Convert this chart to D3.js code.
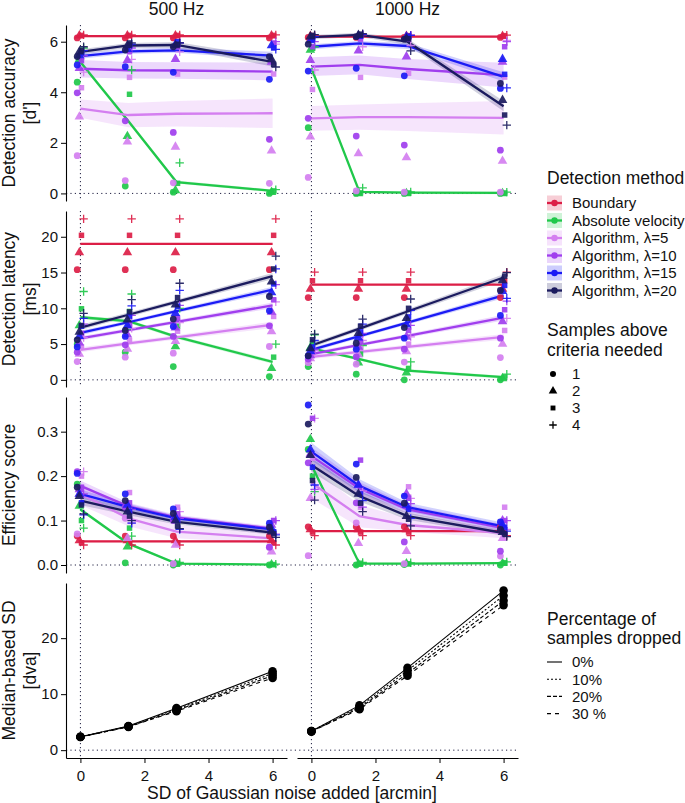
<!DOCTYPE html>
<html><head><meta charset="utf-8">
<script src="https://cdn.jsdelivr.net/npm/d3@7"></script>
<style>
body{margin:0;background:#fff}
svg{display:block}
text{font-family:"Liberation Sans",Arial,Helvetica,sans-serif;fill:#111}
</style>
</head><body>
<svg id="c" width="685" height="803"></svg>
<script>
// ---------------- DATA ----------------
const frequencies = ["500 Hz", "1000 Hz"];
const methods = ["Boundary", "Absolute velocity", "Algorithm, λ=5", "Algorithm, λ=10", "Algorithm, λ=15", "Algorithm, λ=20"];
const methodColors = ["#DC1E46", "#20C84A", "#D47FF0", "#A03EEE", "#1B1BF5", "#1B1B5E"];
const samplesNeeded = ["1", "2", "3", "4"];
const noiseLevels = [0, 1.5, 3, 6];
const dropLabels = ["0%", "10%", "20%", "30 %"];
const xTicks = [0, 2, 4, 6];
const accTicks = [0, 2, 4, 6];
const latTicks = [0, 5, 10, 15, 20];
const effTicks = [0, 0.1, 0.2, 0.3];
const sdTicks = [0, 10, 20];

// Detection accuracy (d') – means, CI half widths, points [method][noise][samples]
const accLine500 = [[6.22,6.22,6.22,6.22],[5.2,2.85,0.45,0.1],[3.35,3.1,3.15,3.17],[4.93,4.87,4.86,4.82],[5.43,5.62,5.66,5.45],[5.6,5.85,5.87,5.2]];
const accBand500 = [[0.04,0.04,0.04,0.04],[0.08,0.08,0.06,0.05],[0.36,0.48,0.5,0.58],[0.35,0.33,0.33,0.35],[0.1,0.1,0.1,0.15],[0.1,0.1,0.12,0.18]];
const accPts500 = [
 [[6.15,6.24,6.25,6.27],[6.15,6.24,6.25,6.27],[6.15,6.24,6.25,6.27],[6.15,6.24,6.25,6.27]],
 [[4.4,5.3,5.5,5.75],[0.29,2.26,3.92,4.88],[0.05,0.12,0.4,1.21],[0.0,0.05,0.1,0.15]],
 [[1.49,3.03,4.18,4.8],[0.51,2.04,4.59,5.3],[0.42,1.84,4.72,5.6],[0.4,1.69,4.72,5.9]],
 [[3.98,4.95,5.25,5.45],[2.87,5.27,5.6,5.75],[2.41,5.31,5.8,5.95],[2.14,5.2,5.95,6.0]],
 [[5.08,5.45,5.55,5.65],[5.01,5.7,5.85,5.9],[4.79,5.9,6.0,5.95],[4.51,5.85,5.75,5.7]],
 [[5.41,5.6,5.65,5.8],[5.67,5.85,5.95,5.95],[5.8,5.85,5.9,5.95],[5.41,5.3,5.1,5.0]]
];
const accLine1000 = [[6.2,6.2,6.2,6.2],[4.95,0.06,0.03,0.02],[2.97,3.02,3.02,2.99],[5.01,5.08,4.92,4.68],[5.8,5.93,5.83,4.61],[6.18,6.27,6.0,3.45]];
const accBand1000 = [[0.04,0.04,0.04,0.04],[0.06,0.05,0.05,0.05],[0.49,0.5,0.55,0.66],[0.37,0.37,0.4,0.49],[0.1,0.1,0.12,0.18],[0.08,0.08,0.12,0.2]];
const accPts1000 = [
 [[6.17,6.22,6.24,6.26],[6.17,6.22,6.24,6.26],[6.17,6.22,6.24,6.26],[6.17,6.22,6.24,6.26]],
 [[2.6,5.67,5.75,5.8],[0.0,0.0,0.02,0.22],[0.0,0.0,0.02,0.06],[0.0,0.0,0.02,0.05]],
 [[0.63,2.24,4.11,4.88],[0.1,1.58,4.59,5.8],[0.05,1.42,4.75,5.85],[0.05,1.28,4.6,6.05]],
 [[2.97,5.27,5.8,6.0],[2.27,5.64,6.1,6.3],[1.91,5.41,6.1,6.25],[1.71,5.2,5.8,6.0]],
 [[4.84,6.05,6.1,6.2],[4.95,6.22,6.26,6.28],[4.65,6.2,6.22,6.25],[4.15,5.31,4.71,4.17]],
 [[5.9,6.2,6.25,6.28],[6.2,6.26,6.3,6.32],[6.1,6.12,6.12,5.64],[4.35,3.69,3.1,2.7]]
];

// Detection latency (ms)
const latLine500 = [[19,19,19,19],[8.75,8.2,6.0,2.5],[4.2,5.1,5.95,7.7],[5.8,6.95,8.1,10.4],[6.55,8.05,9.6,12.6],[7.3,9.1,10.9,14.5]];
const latBand500 = [[0.1,0.1,0.1,0.1],[0.25,0.25,0.25,0.25],[0.35,0.3,0.3,0.45],[0.3,0.25,0.25,0.4],[0.3,0.25,0.25,0.4],[0.35,0.3,0.3,0.45]];
const latPts500 = [
 [[15.4,17.8,20.2,22.5],[15.4,17.8,20.2,22.5],[15.4,17.8,20.2,22.5],[15.4,17.8,20.2,22.5]],
 [[5.0,7.6,9.93,12.35],[3.87,7.4,9.56,12.0],[1.86,4.66,7.5,10.0],[0.46,1.63,3.17,4.99]],
 [[2.56,3.6,4.6,5.9],[3.17,4.3,5.5,7.2],[3.73,5.4,6.8,8.0],[4.66,6.76,8.86,10.9]],
 [[3.87,5.2,6.5,7.8],[4.9,6.3,7.7,9.0],[6.06,7.3,8.6,10.4],[7.55,9.5,11.2,13.3]],
 [[4.6,6.1,7.5,8.6],[6.06,7.6,8.9,10.35],[7.46,9.3,10.3,12.5],[9.65,12.2,13.4,15.5]],
 [[5.6,6.7,7.6,9.3],[6.9,8.4,9.5,11.2],[8.5,10.5,11.5,13.5],[11.65,13.7,15.5,17.3]]
];
const latLine1000 = [[13.3,13.3,13.3,13.3],[4.4,2.9,1.3,0.37],[3.2,3.9,4.6,6.0],[3.6,4.9,6.15,8.7],[4.2,6.1,8.0,11.8],[4.8,7.17,9.55,14.3]];
const latBand1000 = [[0.1,0.1,0.1,0.1],[0.2,0.2,0.2,0.2],[0.3,0.3,0.3,0.4],[0.3,0.25,0.25,0.4],[0.3,0.25,0.25,0.4],[0.3,0.3,0.3,0.45]];
const latPts1000 = [
 [[11.5,12.7,13.85,15.06],[11.5,12.7,13.85,15.06],[11.5,12.7,13.85,15.06],[11.5,12.7,13.85,15.06]],
 [[1.86,4.5,5.03,6.3],[0.79,2.4,3.6,4.8],[0.0,1.0,1.6,2.5],[0.0,0.2,0.4,0.8]],
 [[2.4,3.0,3.5,4.1],[2.19,3.5,4.4,5.5],[2.48,3.96,5.0,6.0],[3.12,5.0,6.9,8.6]],
 [[2.9,3.4,3.9,4.3],[3.2,4.6,5.3,6.5],[4.29,6.0,6.9,7.6],[5.83,8.15,9.8,11.0]],
 [[3.36,4.0,4.6,5.5],[4.29,5.9,6.7,7.8],[5.83,7.7,8.8,9.7],[9.0,12.4,13.2,11.4]],
 [[3.36,4.4,5.6,6.4],[5.13,6.5,7.5,8.5],[7.3,8.6,10.0,11.3],[12.5,13.9,14.5,15.0]]
];

// Efficiency score
const effLine500 = [[0.053,0.053,0.053,0.053],[0.125,0.048,0.003,0.001],[0.16,0.105,0.075,0.06],[0.178,0.132,0.107,0.082],[0.16,0.13,0.105,0.08],[0.145,0.12,0.097,0.073]];
const effBand500 = [[0.002,0.002,0.002,0.002],[0.004,0.003,0.002,0.001],[0.025,0.018,0.015,0.012],[0.012,0.008,0.006,0.005],[0.01,0.008,0.006,0.005],[0.01,0.008,0.006,0.005]];
const effPts500 = [
 [[0.065,0.055,0.05,0.045],[0.065,0.055,0.05,0.045],[0.065,0.055,0.05,0.045],[0.065,0.055,0.05,0.045]],
 [[0.182,0.133,0.1,0.083],[0.005,0.041,0.083,0.065],[0.0,0.002,0.004,0.006],[0.0,0.001,0.001,0.002]],
 [[0.07,0.16,0.2,0.21],[0.105,0.06,0.163,0.095],[0.003,0.045,0.13,0.12],[0.04,0.03,0.1,0.07]],
 [[0.21,0.17,0.175,0.16],[0.13,0.135,0.14,0.125],[0.1,0.11,0.115,0.105],[0.04,0.09,0.1,0.1]],
 [[0.206,0.16,0.14,0.113],[0.16,0.135,0.12,0.094],[0.126,0.108,0.1,0.08],[0.094,0.082,0.075,0.068]],
 [[0.175,0.155,0.135,0.115],[0.145,0.12,0.11,0.1],[0.116,0.1,0.088,0.082],[0.085,0.075,0.07,0.062]]
];
const effLine1000 = [[0.076,0.076,0.076,0.076],[0.225,0.003,0.003,0.004],[0.185,0.11,0.09,0.072],[0.245,0.172,0.125,0.083],[0.255,0.178,0.13,0.087],[0.225,0.155,0.11,0.072]];
const effBand1000 = [[0.002,0.002,0.002,0.002],[0.006,0.002,0.002,0.002],[0.035,0.025,0.015,0.012],[0.02,0.015,0.01,0.008],[0.02,0.015,0.01,0.008],[0.015,0.012,0.008,0.006]];
const effPts1000 = [
 [[0.086,0.08,0.074,0.066],[0.086,0.08,0.074,0.066],[0.086,0.08,0.074,0.066],[0.086,0.08,0.074,0.066]],
 [[0.26,0.283,0.2,0.165],[0.0,0.002,0.004,0.006],[0.001,0.003,0.003,0.005],[0.0,0.004,0.005,0.007]],
 [[0.021,0.15,0.24,0.33],[0.095,0.049,0.13,0.166],[0.003,0.031,0.176,0.15],[0.02,0.06,0.13,0.08]],
 [[0.23,0.25,0.33,0.17],[0.14,0.18,0.236,0.13],[0.052,0.16,0.15,0.138],[0.031,0.1,0.1,0.1]],
 [[0.36,0.26,0.22,0.18],[0.227,0.18,0.16,0.145],[0.155,0.135,0.125,0.105],[0.097,0.09,0.085,0.076]],
 [[0.317,0.247,0.19,0.146],[0.197,0.16,0.139,0.12],[0.139,0.11,0.103,0.088],[0.08,0.074,0.07,0.064]]
];

// Median-based SD (dva) per percentage dropped
const sdLines500 = [[2.4,4.3,7.5,14.1],[2.4,4.25,7.3,13.7],[2.35,4.2,7.1,13.3],[2.35,4.15,6.95,12.9]];
const sdLines1000 = [[3.4,8.0,14.7,28.5],[3.4,7.75,14.2,27.6],[3.35,7.5,13.7,26.7],[3.35,7.3,13.3,25.9]];

// ---------------- LAYOUT / STYLE ----------------
const colX = [66, 297], colW = 221;
const rowY = [25, 211, 397, 583], rowH = [176, 176, 176, 175];
const xDom = [-0.45, 6.45];
const yDoms = [[-0.3, 6.66], [-1.0, 23.6], [-0.018, 0.378], [-1.4, 29.85]];
const yTickSets = [accTicks, latTicks, effTicks, sdTicks];
const yFmts = [d3.format("d"), d3.format("d"), d3.format(".1f"), d3.format("d")];
const yTitles = [["Detection accuracy", "[d']"], ["Detection latency", "[ms]"], ["Efficiency score"], ["Median-based SD", "[dva]"]];
const dodge = [-0.1, -0.033, 0.033, 0.1];
const dashes = [null, "2,2", "4,2", "4,4"];

const svg = d3.select("#c");
svg.append("rect").attr("width", 685).attr("height", 803).attr("fill", "#fff");

function symbolPath(s, scale = 1) {
  if (s === 0) return d3.symbol().type(d3.symbolCircle).size(36 * scale)();
  if (s === 1) return d3.symbol().type(d3.symbolTriangle).size(40 * scale)();
  if (s === 2) return d3.symbol().type(d3.symbolSquare).size(30 * scale)();
  const a = 4.2 * Math.sqrt(scale);
  return `M${-a},0H${a}M0,${-a}V${a}`;
}
function drawSymbol(g, s, cx, cy, color, scale = 1, op = 0.92) {
  const p = g.append("path").attr("d", symbolPath(s, scale)).attr("transform", `translate(${cx},${cy})`).attr("opacity", op);
  if (s === 3) p.attr("fill", "none").attr("stroke", color).attr("stroke-width", 1.3);
  else p.attr("fill", color);
}

function makePanel(r, c) {
  const g = svg.append("g").attr("transform", `translate(${colX[c]},${rowY[r]})`);
  const x = d3.scaleLinear(xDom, [0, colW]);
  const y = d3.scaleLinear(yDoms[r], [rowH[r], 0]);
  const id = `clip${r}${c}`;
  svg.append("clipPath").attr("id", id).append("rect").attr("width", colW).attr("height", rowH[r]);
  const inner = g.append("g").attr("clip-path", `url(#${id})`);
  inner.append("line").attr("x1", x(0)).attr("x2", x(0)).attr("y1", 0).attr("y2", rowH[r])
    .attr("stroke", "#222244").attr("stroke-width", 1).attr("stroke-dasharray", "1.2,2.8");
  return { g, inner, x, y };
}

function drawMethods(p, lines, bands, pts) {
  const area = d3.area().x((d, i) => p.x(noiseLevels[i])).y0(d => p.y(d[0])).y1(d => p.y(d[1]));
  const line = d3.line().x((d, i) => p.x(noiseLevels[i])).y(d => p.y(d));
  lines.forEach((ln, m) => {
    const band = ln.map((v, i) => [v - bands[m][i], v + bands[m][i]]);
    p.inner.append("path").attr("d", area(band)).attr("fill", methodColors[m]).attr("opacity", 0.2);
  });
  lines.forEach((ln, m) => {
    p.inner.append("path").attr("d", line(ln)).attr("fill", "none")
      .attr("stroke", methodColors[m]).attr("stroke-width", 2.3);
  });
  pts.forEach((pm, m) => pm.forEach((vals, i) => vals.forEach((v, s) => {
    drawSymbol(p.inner, s, p.x(noiseLevels[i] + dodge[s]), p.y(v), methodColors[m]);
  })));
}

function drawSD(p, sdLines) {
  const line = d3.line().x((d, i) => p.x(noiseLevels[i])).y(d => p.y(d));
  sdLines.forEach((ln, k) => {
    const path = p.inner.append("path").attr("d", line(ln)).attr("fill", "none")
      .attr("stroke", "#000").attr("stroke-width", 1.1);
    if (dashes[k]) path.attr("stroke-dasharray", dashes[k]);
  });
  sdLines.forEach(ln => ln.forEach((v, i) => {
    p.inner.append("circle").attr("cx", p.x(noiseLevels[i])).attr("cy", p.y(v)).attr("r", 4.3).attr("fill", "#000");
  }));
}

const dataSets = [
  [[accLine500, accBand500, accPts500], [accLine1000, accBand1000, accPts1000]],
  [[latLine500, latBand500, latPts500], [latLine1000, latBand1000, latPts1000]],
  [[effLine500, effBand500, effPts500], [effLine1000, effBand1000, effPts1000]]
];

for (let r = 0; r < 4; r++) {
  const yTmp = d3.scaleLinear(yDoms[r], [rowY[r] + rowH[r], rowY[r]]);
  svg.append("line").attr("x1", colX[0]).attr("x2", colX[1] + colW - 2)
    .attr("y1", yTmp(0)).attr("y2", yTmp(0))
    .attr("stroke", "#222244").attr("stroke-width", 1).attr("stroke-dasharray", "1.2,3.2");
  for (let c = 0; c < 2; c++) {
    const p = makePanel(r, c);
    if (r < 3) {
      const [ln, bd, pt] = dataSets[r][c];
      drawMethods(p, ln, bd, pt);
    } else {
      drawSD(p, c === 0 ? sdLines500 : sdLines1000);
    }
    if (c === 0) {
      const ax = p.g.append("g").call(d3.axisLeft(p.y).tickValues(yTickSets[r]).tickFormat(yFmts[r]).tickSize(5).tickSizeOuter(0).tickPadding(3));
      ax.select(".domain").attr("stroke", "#000").attr("stroke-width", 1.1);
      ax.selectAll(".tick line").attr("stroke", "#000");
      ax.selectAll(".tick text").attr("font-size", 15).attr("fill", "#111").attr("font-family", "Liberation Sans, Arial, sans-serif");
    }
    if (r === 3) {
      const ax = p.g.append("g").attr("transform", `translate(0,${rowH[r]})`)
        .call(d3.axisBottom(p.x).tickValues(xTicks).tickFormat(d3.format("d")).tickSize(5).tickSizeOuter(0).tickPadding(7));
      ax.select(".domain").attr("stroke", "#000").attr("stroke-width", 1.1);
      ax.selectAll(".tick line").attr("stroke", "#000");
      ax.selectAll(".tick text").attr("font-size", 15).attr("fill", "#111").attr("font-family", "Liberation Sans, Arial, sans-serif");
    }
    if (r === 0) {
      svg.append("text").attr("x", colX[c] + colW / 2).attr("y", 15).attr("text-anchor", "middle")
        .attr("font-size", 17.5).text(frequencies[c]);
    }
  }
  const cy = rowY[r] + rowH[r] / 2;
  yTitles[r].forEach((t, k) => {
    svg.append("text").attr("transform", `translate(${15 + k * 21},${cy}) rotate(-90)`)
      .attr("text-anchor", "middle").attr("font-size", 17.5).text(t);
  });
}
svg.append("text").attr("x", (colX[0] + colX[1] + colW) / 2).attr("y", 799).attr("text-anchor", "middle")
  .attr("font-size", 17.5).text("SD of Gaussian noise added [arcmin]");

// ---------------- LEGENDS ----------------
const lx = 547, tx = 572;
const leg = svg.append("g");
leg.append("text").attr("x", lx).attr("y", 184).attr("font-size", 17.5).text("Detection method");
methods.forEach((m, i) => {
  const cy = 203 + i * 17.5;
  leg.append("rect").attr("x", lx).attr("y", cy - 7.5).attr("width", 15).attr("height", 15).attr("fill", methodColors[i]).attr("opacity", 0.22);
  leg.append("line").attr("x1", lx).attr("x2", lx + 15).attr("y1", cy).attr("y2", cy).attr("stroke", methodColors[i]).attr("stroke-width", 2.3);
  leg.append("circle").attr("cx", lx + 7.5).attr("cy", cy).attr("r", 3.2).attr("fill", methodColors[i]);
  leg.append("text").attr("x", tx).attr("y", cy + 5.4).attr("font-size", 15).text(m);
});
leg.append("text").attr("x", lx).attr("y", 336).attr("font-size", 17.5).text("Samples above");
leg.append("text").attr("x", lx).attr("y", 355.5).attr("font-size", 17.5).text("criteria needed");
samplesNeeded.forEach((s, i) => {
  const cy = 374 + i * 17;
  drawSymbol(leg, i, lx + 6, cy, "#000", 0.8, 1);
  leg.append("text").attr("x", tx).attr("y", cy + 5.4).attr("font-size", 15).text(s);
});
leg.append("text").attr("x", lx).attr("y", 624.5).attr("font-size", 17.5).text("Percentage of");
leg.append("text").attr("x", lx).attr("y", 643.5).attr("font-size", 17.5).text("samples dropped");
dropLabels.forEach((d, i) => {
  const cy = 662 + i * 17.2;
  const l = leg.append("line").attr("x1", lx).attr("x2", lx + 15).attr("y1", cy).attr("y2", cy).attr("stroke", "#000").attr("stroke-width", 1.1);
  if (dashes[i]) l.attr("stroke-dasharray", dashes[i]);
  leg.append("text").attr("x", tx).attr("y", cy + 5.4).attr("font-size", 15).text(d);
});
</script>
</body></html>
